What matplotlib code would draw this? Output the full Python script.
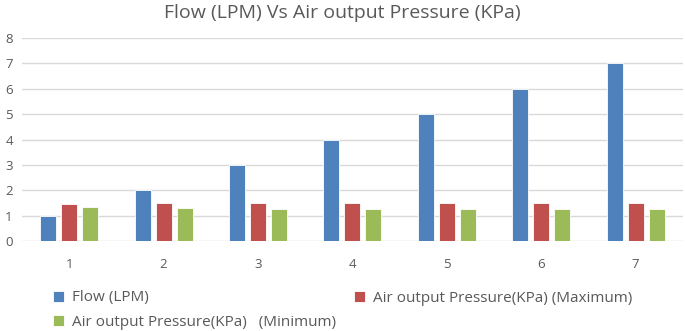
"""
Flow vs air output pressure, grouped bars
"""
import matplotlib
matplotlib.use('Agg')
import matplotlib.pyplot as plt
import numpy as np

categories = ['1', '2', '3', '4', '5', '6', '7']
flow = [1, 2, 3, 4, 5, 6, 7]
pressure_max = [1.45, 1.5, 1.5, 1.5, 1.5, 1.5, 1.5]
pressure_min = [1.35, 1.3, 1.25, 1.25, 1.25, 1.25, 1.25]
series_names = ['Flow (LPM)', 'Air output Pressure(KPa) (Maximum)',
                'Air output Pressure(KPa)   (Minimum)']
colors = ['#4f81bd', '#c0504d', '#9bbb59']

plt.rcParams['font.family'] = ['Open Sans', 'DejaVu Sans']

W, H = 685, 331
fig = plt.figure(figsize=(W / 100, H / 100), dpi=100)
ax = fig.add_axes([0.032, 0.272, 0.965, 0.613])

x = np.arange(len(categories))
w = 0.17
step = 0.222
bars = []
for i, (vals, c) in enumerate(zip([flow, pressure_max, pressure_min], colors)):
    b = ax.bar(x + (i - 1) * step, vals, w, color=c, edgecolor='white',
               linewidth=0.6, zorder=3)
    bars.append(b)

ax.set_xlim(-0.5, len(categories) - 0.5)
ax.set_ylim(0, 8)
ax.set_yticks(range(0, 9))
ax.set_xticks(x)
ax.set_xticklabels(categories)
ax.grid(axis='y', color='#d9d9d9', linewidth=1, zorder=0)
for s in ax.spines.values():
    s.set_visible(False)
ax.tick_params(length=0, colors='#595959', labelsize=9.5)
ax.tick_params(axis='y', pad=12)
ax.tick_params(axis='x', pad=12)
for lab in ax.get_yticklabels():
    lab.set_horizontalalignment('left')

fig.text(0.5, 0.962, 'Flow (LPM) Vs Air output Pressure (KPa)',
         ha='center', va='center', fontsize=14, color='#595959')

# legend entries placed one by one: (bar index, handle left px, row centre px)
legend_spots = [(0, 53, 298), (1, 354, 298), (2, 53, 322)]
for idx, px, py in legend_spots:
    leg = fig.legend([bars[idx]], [series_names[idx]], loc='center left',
                     bbox_to_anchor=(px / W, 1 - py / H), frameon=False,
                     fontsize=11, handlelength=0.7, handleheight=0.7,
                     handletextpad=0.55, borderpad=0, borderaxespad=0)
    for t in leg.get_texts():
        t.set_color('#595959')

fig.savefig('out.png', dpi=100)
